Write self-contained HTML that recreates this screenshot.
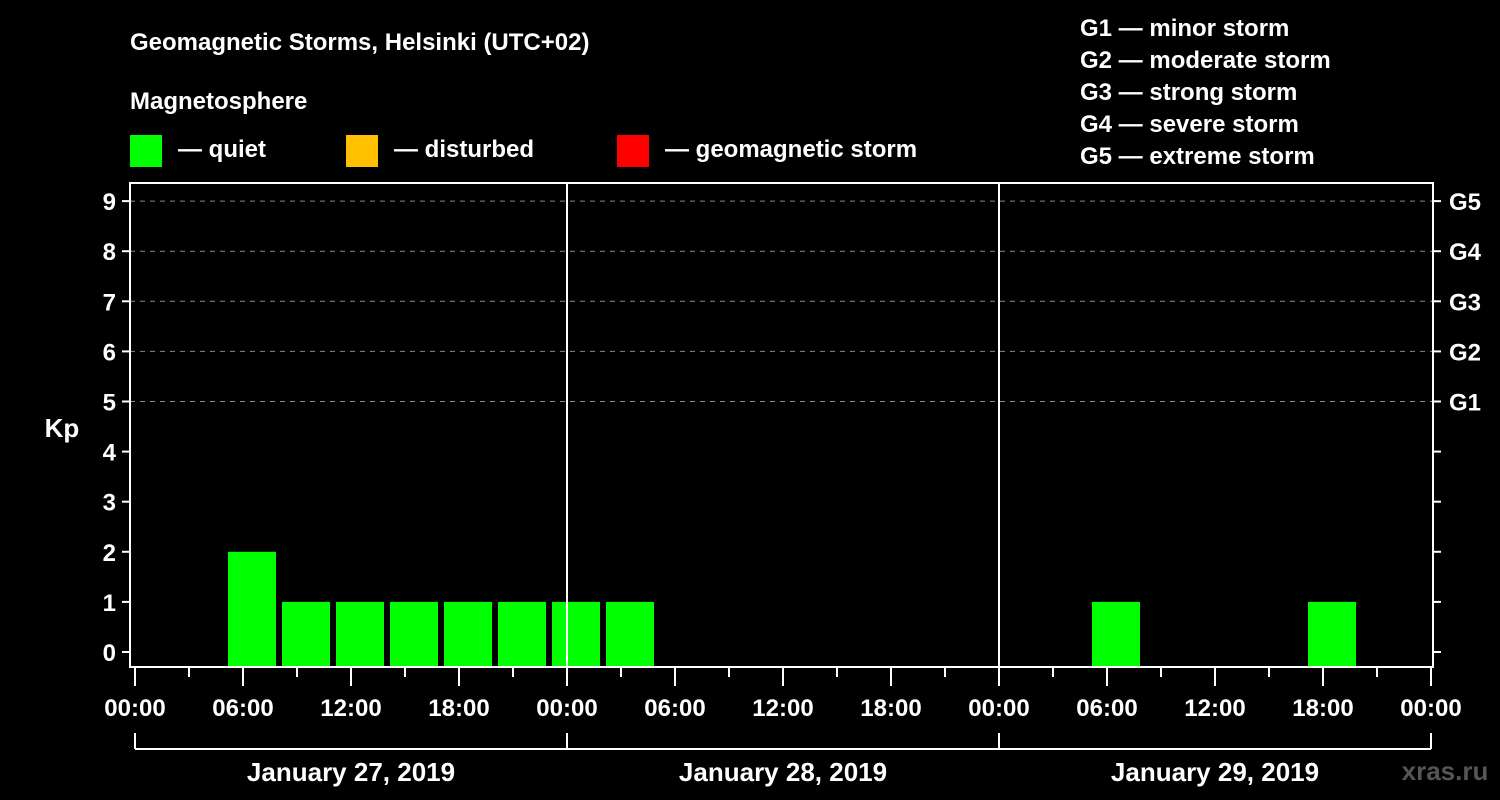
<!DOCTYPE html>
<html><head><meta charset="utf-8"><style>
html,body{margin:0;padding:0;background:#000;}
svg{display:block;font-family:"Liberation Sans",Arial,sans-serif;font-weight:bold;}
</style></head><body>
<svg id="c" width="1500" height="800" viewBox="0 0 1500 800">
<text x="130" y="50" fill="#fff" font-size="24">Geomagnetic Storms, Helsinki (UTC+02)</text>
<text x="130" y="109" fill="#fff" font-size="24">Magnetosphere</text>
<g><rect x="130" y="135" width="32" height="32" fill="#00ff00"/><text x="178" y="157" fill="#fff" font-size="24">— quiet</text></g>
<g><rect x="346" y="135" width="32" height="32" fill="#ffc000"/><text x="394" y="157" fill="#fff" font-size="24">— disturbed</text></g>
<g><rect x="617" y="135" width="32" height="32" fill="#ff0000"/><text x="665" y="157" fill="#fff" font-size="24">— geomagnetic storm</text></g>
<g fill="#fff" font-size="24">
<text x="1080" y="36">G1 — minor storm</text>
<text x="1080" y="68">G2 — moderate storm</text>
<text x="1080" y="100">G3 — strong storm</text>
<text x="1080" y="132">G4 — severe storm</text>
<text x="1080" y="164">G5 — extreme storm</text>
</g>
<text x="62" y="437" fill="#fff" font-size="26" text-anchor="middle">Kp</text>
<text x="1445" y="780" fill="#555" font-size="26" text-anchor="middle">xras.ru</text>
<g id="plot"></g>
</svg>
<script>
const kpValues=[null,2,1,1,1,1,1,1, 1,null,null,null,null,null,null,null, null,1,null,null,null,1,null,null];
const yTicks=[0,1,2,3,4,5,6,7,8,9];
const gLabels=["G1","G2","G3","G4","G5"];
const gLevels=[5,6,7,8,9];
const xLabels=["00:00","06:00","12:00","18:00","00:00","06:00","12:00","18:00","00:00","06:00","12:00","18:00","00:00"];
const dayLabels=["January 27, 2019","January 28, 2019","January 29, 2019"];
const slotOffsetHours=2;

const X0=135,X1=1431,L=130,R=1433,T=183,B=667;
const x=h=>X0+(X1-X0)*h/72;
const y=v=>652-v*50.1;
const NS="http://www.w3.org/2000/svg";
const g=document.getElementById('plot');
function mk(t,a){const e=document.createElementNS(NS,t);for(const k in a)e.setAttribute(k,a[k]);g.appendChild(e);return e;}
// grid
gLevels.forEach(v=>{const e=mk('line',{x1:L,x2:R,y1:y(v),y2:y(v),stroke:'#888','stroke-width':1,'stroke-dasharray':'5,5'});

});
// bars
kpValues.forEach((v,i)=>{if(v===null)return;const h0=slotOffsetHours+i*3;
const e=mk('rect',{x:x(h0)+3,y:y(v),width:x(h0+3)-x(h0)-6,height:B-y(v),fill:v>=5?'#ff0000':(v>=4?'#ffc000':'#00ff00')});

});
// frame
const f=mk('rect',{x:L,y:T,width:R-L,height:B-T,fill:'none',stroke:'#fff','stroke-width':2});


[24,48].forEach(h=>{const e=mk('line',{x1:x(h),x2:x(h),y1:T,y2:B,stroke:'#fff','stroke-width':2});

});
// y ticks
yTicks.forEach(v=>{mk('line',{x1:L-8,x2:L,y1:y(v),y2:y(v),stroke:'#fff','stroke-width':2});
mk('line',{x1:R,x2:R+8,y1:y(v),y2:y(v),stroke:'#fff','stroke-width':2});
const t=mk('text',{x:116,y:y(v)+9,fill:'#fff','font-size':24,'text-anchor':'end'});t.textContent=v;

});
gLabels.forEach((s,i)=>{const t=mk('text',{x:1449,y:y(gLevels[i])+9,fill:'#fff','font-size':24});t.textContent=s;

});
// x ticks
for(let h=0;h<=72;h+=3){const maj=h%6===0;mk('line',{x1:x(h),x2:x(h),y1:B,y2:maj?686:677,stroke:'#fff','stroke-width':2});}
xLabels.forEach((s,i)=>{const t=mk('text',{x:x(i*6),y:716,fill:'#fff','font-size':24,'text-anchor':'middle'});t.textContent=s;

});
// day brackets
mk('line',{x1:x(0),x2:x(72),y1:749,y2:749,stroke:'#fff','stroke-width':2});
[0,24,48,72].forEach(h=>mk('line',{x1:x(h),x2:x(h),y1:733,y2:749,stroke:'#fff','stroke-width':2}));
dayLabels.forEach((s,i)=>{const t=mk('text',{x:x(i*24+12),y:781,fill:'#fff','font-size':26,'text-anchor':'middle'});t.textContent=s;

});
</script>
</body></html>
